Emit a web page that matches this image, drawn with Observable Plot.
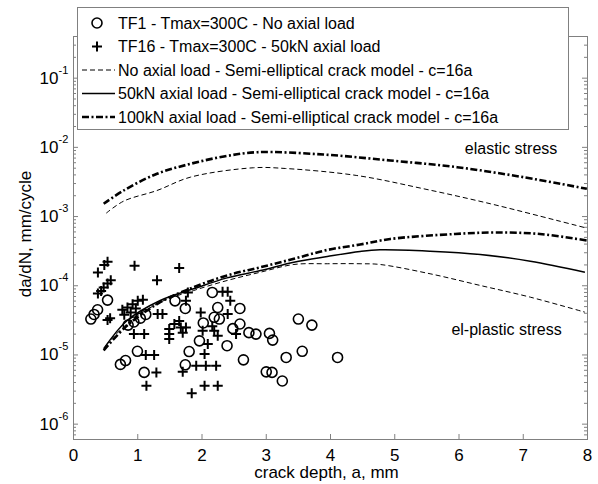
<!DOCTYPE html>
<html><head><meta charset="utf-8">
<script src="https://cdn.jsdelivr.net/npm/d3@7"></script>
<script src="https://cdn.jsdelivr.net/npm/@observablehq/plot@0.6"></script>
<style>
body{margin:0;background:#fff;}
#wrap{position:relative;width:598px;height:484px;font-family:"Liberation Sans",Arial,sans-serif;}
#legend{position:absolute;left:77px;top:7px;}
</style></head><body><div id="wrap"></div>
<script>
// ---- data ----
const xTicks = [0,1,2,3,4,5,6,7,8];
const yDecades = [1e-6,1e-5,1e-4,1e-3,1e-2,1e-1];
const yExponents = ["-6","-5","-4","-3","-2","-1"];

// TF1 - Tmax=300C - No axial load (circles)
const tf1A = [0.27,0.32,0.375,0.53,0.73,0.81,0.85,0.94,1.04,1.125,0.995,1.10,1.58,1.74,1.80,1.74,1.96,2.02,2.16,2.245,2.19,2.27,2.39,2.48,2.59,2.59,2.645,2.73,2.84,3.0,3.05,3.09,3.10,3.25,3.31,3.50,3.56,3.71,4.11];
const tf1Rate = [3.3e-5,3.85e-5,4.5e-5,6.2e-5,7.3e-6,8.3e-6,2.7e-5,3.0e-5,3.4e-5,3.85e-5,1.13e-5,5.6e-6,6.05e-5,4.7e-5,1.12e-5,7.2e-6,1.6e-5,2.9e-5,8.0e-5,4.85e-5,3.5e-5,3.3e-5,1.36e-5,2.4e-5,4.7e-5,2.8e-5,8.5e-6,2.1e-5,2.0e-5,5.7e-6,2.05e-5,5.6e-6,1.64e-5,4.2e-6,9.2e-6,3.3e-5,1.13e-5,2.7e-5,9.2e-6];

// TF16 - Tmax=300C - 50kN axial load (plus)
const tf16A = [0.53,0.48,0.38,0.58,0.53,0.47,0.43,0.38,0.57,0.53,0.95,1.30,1.645,
  0.76,0.84,0.92,1.0,0.79,0.89,0.97,1.08,
  0.94,1.10,1.125,1.255,1.29,1.135,
  1.31,1.385,1.49,1.49,1.49,1.57,1.645,1.67,1.70,1.75,1.78,1.75,1.70,1.84,
  1.91,2.06,2.22,2.04,2.245,
  1.98,2.01,2.09,2.04,
  2.32,2.40,2.44,2.40,
  2.16,2.19,2.245,2.53];
const tf16Rate = [2.23e-4,2.0e-4,1.55e-4,1.2e-4,1.08e-4,9.4e-5,8.4e-5,7.7e-5,3.4e-5,3.2e-5,1.94e-4,1.2e-4,1.8e-4,
  4.5e-5,4.85e-5,5.4e-5,6.05e-5,3.8e-5,4.1e-5,4.7e-5,6.3e-5,
  2.0e-5,2.0e-5,1.0e-5,1.0e-5,5.6e-6,3.6e-6,
  3.9e-5,3.9e-5,2.37e-5,2.0e-5,1.7e-5,2.8e-5,3.1e-5,2.5e-5,2.1e-5,2.5e-5,8.0e-5,6.05e-5,5.7e-6,2.8e-6,
  7.0e-6,7.0e-6,7.0e-6,3.6e-6,3.6e-6,
  4.1e-5,2.24e-5,1.44e-5,1.03e-5,
  8.2e-5,8.2e-5,6.05e-5,3.9e-5,
  2.6e-5,2.24e-5,1.9e-5,2.0e-5];

// Model curves - elastic stress
const noLoadElasticA = [0.51,0.78,1.30,1.82,2.80,3.30,4.41,5.45,6.49,7.52,7.99];
const noLoadElasticRate = [1.12e-3,1.67e-3,2.38e-3,3.71e-3,5.07e-3,4.95e-3,3.92e-3,2.52e-3,1.53e-3,8.8e-4,6.8e-4];
const load100ElasticA = [0.47,0.78,1.30,1.82,2.34,2.86,3.89,4.93,5.97,7.0,7.99];
const load100ElasticRate = [1.53e-3,2.38e-3,4.15e-3,5.78e-3,7.38e-3,8.51e-3,7.88e-3,6.46e-3,5.17e-3,3.71e-3,2.52e-3];

// Model curves - el-plastic stress
const load50PlasticA = [0.47,0.835,1.35,1.87,2.39,2.91,3.43,3.95,4.46,4.77,5.55,6.33,7.11,7.96];
const load50PlasticRate = [1.23e-5,3.15e-5,6.12e-5,9.03e-5,1.30e-4,1.66e-4,2.19e-4,2.65e-4,3.13e-4,3.31e-4,3.16e-4,2.83e-4,2.26e-4,1.57e-4];
const noLoadPlasticA = [0.50,0.835,1.35,1.87,2.39,2.91,3.43,3.95,4.46,4.77,5.55,6.33,7.11,7.96];
const noLoadPlasticRate = [1.37e-5,2.82e-5,5.78e-5,8.53e-5,1.19e-4,1.57e-4,2.03e-4,2.08e-4,2.08e-4,2.03e-4,1.49e-4,1.01e-4,6.84e-5,4.15e-5];
const load100PlasticA = [0.47,0.835,1.35,1.87,2.39,2.91,3.43,3.95,4.46,4.93,5.94,6.56,7.26,7.99];
const load100PlasticRate = [1.16e-5,2.67e-5,5.78e-5,9.53e-5,1.41e-4,1.85e-4,2.45e-4,3.29e-4,3.94e-4,4.74e-4,5.60e-4,5.89e-4,5.60e-4,4.51e-4];

const legendLabels = [
  "TF1 - Tmax=300C - No axial load",
  "TF16 - Tmax=300C - 50kN axial load",
  "No axial load - Semi-elliptical crack model - c=16a",
  "50kN axial load - Semi-elliptical crack model - c=16a",
  "100kN axial load - Semi-elliptical crack model - c=16a"
];

// ---- layout ----
const W = 598, H = 484, mL = 73, mR = 11, mT = 36, mB = 45;
const fw = W - mL - mR, fh = H - mT - mB;
const gray = "#808080";
const FONT = "'Liberation Sans', Arial, sans-serif";
const yMinor = [];
for (const d of [1e-7, ...yDecades]) for (const m of d3.range(2, 10)) {
  const v = m * d; if (v >= 6e-7 && v <= 0.4) yMinor.push(v);
}
const plusSymbol = {draw(ctx, size) {
  const r = Math.sqrt(size / Math.PI);
  ctx.moveTo(-r, 0); ctx.lineTo(r, 0); ctx.moveTo(0, -r); ctx.lineTo(0, r);
}};
const dashed = {stroke: "black", strokeWidth: 1, strokeDasharray: "5,3", strokeLinecap: "butt", curve: "catmull-rom"};
const solid = {stroke: "black", strokeWidth: 1.5, strokeLinecap: "butt", curve: "catmull-rom"};
const dashdot = {stroke: "black", strokeWidth: 2.6, strokeDasharray: "7,2.5,2,2.5", strokeLinecap: "butt", curve: "catmull-rom"};

const chart = Plot.plot({
  width: W, height: H,
  marginLeft: mL, marginRight: mR, marginTop: mT, marginBottom: mB,
  style: {fontFamily: FONT, fontSize: "17px", color: "black", background: "white"},
  x: {domain: [0, 8]},
  y: {type: "log", domain: [6e-7, 0.4]},
  marks: [
    Plot.frame({stroke: gray}),
    Plot.tickX(xTicks, {x: d => d, stroke: gray, insetTop: fh - 5}),
    Plot.tickX(xTicks, {x: d => d, stroke: gray, insetBottom: fh - 5}),
    Plot.tickY(yDecades, {y: d => d, stroke: gray, insetRight: fw - 5}),
    Plot.tickY(yDecades, {y: d => d, stroke: gray, insetLeft: fw - 5}),
    Plot.tickY(yMinor, {y: d => d, stroke: gray, insetRight: fw - 3}),
    Plot.tickY(yMinor, {y: d => d, stroke: gray, insetLeft: fw - 3}),
    Plot.axisX({ticks: xTicks, tickSize: 0, tickPadding: 9, fontSize: 17, label: null, tickFormat: d => String(d)}),
    Plot.axisY({ticks: yDecades, tickSize: 0, tickPadding: 15, fontSize: 17, label: null, tickFormat: () => "10"}),
    Plot.text(yDecades, {frameAnchor: "left", y: d => d, text: (d, i) => yExponents[i], dx: -15, dy: -8, textAnchor: "start", lineAnchor: "middle", fontSize: 11}),
    Plot.text(["crack depth, a, mm"], {frameAnchor: "bottom", dx: -4, dy: 33, textAnchor: "middle", lineAnchor: "middle", fontSize: 17}),
    Plot.text(["da/dN, mm/cycle"], {frameAnchor: "left", rotate: -90, dx: -48, dy: -4, textAnchor: "middle", lineAnchor: "middle", fontSize: 17}),
    Plot.dot(tf1Rate, {x: tf1A, y: tf1Rate, r: 5, stroke: "black", strokeWidth: 1.6, fill: "none"}),
    Plot.dot(tf16Rate, {x: tf16A, y: tf16Rate, r: 5, symbol: plusSymbol, stroke: "black", strokeWidth: 2, fill: "none"}),
    Plot.line(noLoadElasticRate, {x: noLoadElasticA, y: noLoadElasticRate, ...dashed}),
    Plot.line(load100ElasticRate, {x: load100ElasticA, y: load100ElasticRate, ...dashdot}),
    Plot.line(noLoadPlasticRate, {x: noLoadPlasticA, y: noLoadPlasticRate, ...dashed}),
    Plot.line(load50PlasticRate, {x: load50PlasticA, y: load50PlasticRate, ...solid}),
    Plot.line(load100PlasticRate, {x: load100PlasticA, y: load100PlasticRate, ...dashdot}),
    Plot.text(["elastic stress"], {x: 6.81, y: 9.6e-3, fontSize: 16}),
    Plot.text(["el-plastic stress"], {x: 6.74, y: 2.28e-5, fontSize: 16})
  ]
});
const wrap = document.getElementById("wrap");
wrap.appendChild(chart);

// ---- legend (overlay box) ----
const LW = 492, LH = 123;
const rows = [16, 39.5, 63, 86.5, 110];
const leg = d3.create("svg").attr("id", "legend").attr("width", LW).attr("height", LH)
  .style("position", "absolute").style("left", "77px").style("top", "7px");
leg.append("rect").attr("x", 0.5).attr("y", 0.5).attr("width", LW - 1).attr("height", LH - 1)
  .attr("fill", "white").attr("stroke", gray);
leg.append("circle").attr("cx", 20).attr("cy", rows[0]).attr("r", 5).attr("fill", "none").attr("stroke", "black").attr("stroke-width", 1.6);
leg.append("path").attr("d", `M15,${rows[1]}H25M20,${rows[1]-5}V${rows[1]+5}`).attr("stroke", "black").attr("stroke-width", 2);
leg.append("line").attr("x1", 5).attr("x2", 38).attr("y1", rows[2]).attr("y2", rows[2]).attr("stroke", "black").attr("stroke-width", 1).attr("stroke-dasharray", "5,3");
leg.append("line").attr("x1", 5).attr("x2", 38).attr("y1", rows[3]).attr("y2", rows[3]).attr("stroke", "black").attr("stroke-width", 1.5);
leg.append("line").attr("x1", 5).attr("x2", 38).attr("y1", rows[4]).attr("y2", rows[4]).attr("stroke", "black").attr("stroke-width", 2.6).attr("stroke-dasharray", "7,2.5,2,2.5");
legendLabels.forEach((t, i) => {
  leg.append("text").attr("x", 41).attr("y", rows[i]).attr("dy", "0.35em")
    .attr("font-family", FONT).attr("font-size", 16).attr("fill", "black").text(t);
});
wrap.appendChild(leg.node());
</script>
</body></html>
